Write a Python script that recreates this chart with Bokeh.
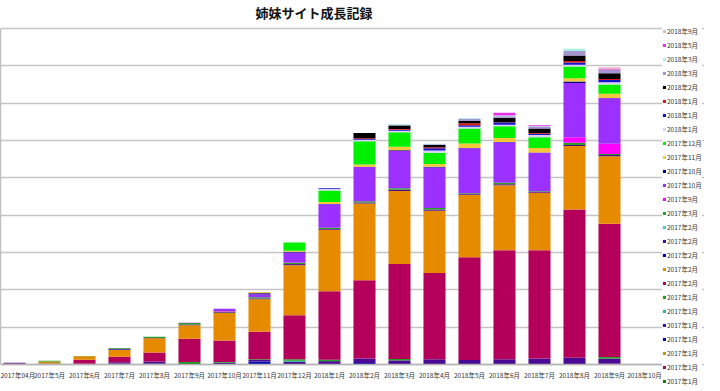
from bokeh.plotting import figure
from bokeh.models import ColumnDataSource, Range1d, FixedTicker, SingleIntervalTicker, Legend, LegendItem
from bokeh.core.properties import value
from bokeh.embed import file_html
from bokeh.resources import INLINE

title_text = "姉妹サイト成長記録"

months = ["2017年04月", "2017年5月", "2017年6月", "2017年7月", "2017年8月", "2017年9月",
          "2017年10月", "2017年11月", "2017年12月", "2018年1月", "2018年2月", "2018年3月",
          "2018年4月", "2018年5月", "2018年6月", "2018年7月", "2018年8月", "2018年9月", "2018年10月"]

# stacked series, bottom to top (one value per month)
s01 = [1, 0, 0, 2, 2, 4, 0, 0, 0, 0, 0, 0, 0, 0, 0, 0, 0, 0, 0]
s02 = [2, 2, 0, 0, 0, 0, 0, 0, 0, 0, 0, 0, 0, 0, 0, 0, 0, 2, 0]
s03 = [0, 6, 0, 0, 0, 0, 0, 0, 0, 0, 0, 0, 0, 0, 0, 0, 0, 0, 0]
s04 = [0, 0, 0, 0, 0, 0, 0, 8, 0, 0, 4, 0, 0, 0, 0, 0, 0, 0, 0]
s05 = [2, 0, 2, 4, 6, 0, 5, 4, 7, 9, 12, 11, 14, 12, 14, 16, 18, 14, 0]
s06 = [0, 0, 0, 0, 0, 0, 0, 0, 3, 0, 0, 0, 0, 0, 0, 0, 0, 0, 0]
s07 = [0, 2, 0, 0, 0, 3, 2, 2, 4, 4, 0, 4, 0, 0, 0, 0, 0, 4, 0]
s08 = [0, 0, 11, 15, 24, 62, 57, 74, 118, 183, 210, 254, 231, 275, 292, 290, 397, 357, 0]
s09 = [0, 0, 9, 18, 38, 36, 74, 87, 134, 165, 205, 196, 167, 168, 174, 154, 170, 181, 0]
s10 = [0, 0, 0, 1, 0, 0, 0, 0, 0, 0, 0, 0, 0, 0, 0, 0, 0, 0, 0]
s11 = [0, 0, 0, 2, 1, 2, 2, 2, 3, 2, 3, 3, 3, 2, 3, 2, 3, 3, 0]
s12 = [0, 0, 0, 0, 0, 0, 0, 0, 0, 0, 0, 0, 0, 0, 0, 0, 0, 0, 0]
s13 = [0, 0, 1, 2, 3, 4, 2, 3, 3, 3, 3, 4, 4, 2, 4, 2, 6, 3, 0]
s14 = [0, 0, 0, 0, 0, 1, 1, 0, 1, 0, 0, 0, 0, 0, 0, 0, 15, 27, 0]
s15 = [0, 0, 0, 0, 0, 0, 6, 8, 27, 63, 92, 100, 109, 120, 108, 103, 145, 122, 0]
s16 = [0, 0, 0, 0, 0, 0, 0, 3, 2, 1, 1, 2, 2, 1, 1, 1, 4, 1, 0]
s17 = [0, 0, 0, 0, 0, 0, 0, 3, 3, 5, 6, 9, 7, 12, 11, 12, 9, 11, 0]
s18 = [0, 0, 0, 0, 0, 0, 0, 0, 22, 31, 62, 39, 30, 40, 31, 29, 31, 25, 0]
s19 = [0, 0, 0, 0, 0, 0, 0, 0, 0, 4, 4, 4, 6, 5, 4, 6, 5, 6, 0]
s20 = [0, 0, 0, 0, 0, 0, 0, 0, 0, 2, 2, 3, 6, 4, 6, 3, 6, 6, 0]
s21 = [0, 0, 0, 0, 0, 0, 0, 0, 0, 0, 2, 2, 3, 5, 1, 2, 4, 3, 0]
s22 = [0, 0, 0, 0, 0, 0, 0, 0, 0, 0, 14, 9, 6, 6, 12, 12, 15, 15, 0]
s23 = [0, 0, 0, 0, 0, 0, 0, 0, 0, 0, 0, 2, 2, 6, 4, 4, 12, 9, 0]
s24 = [0, 0, 0, 0, 0, 0, 0, 0, 0, 0, 0, 2, 1, 2, 2, 2, 6, 0, 0]
s25 = [0, 0, 0, 0, 0, 0, 0, 0, 0, 0, 0, 0, 0, 0, 7, 3, 0, 2, 0]
s26 = [0, 0, 0, 0, 0, 0, 0, 0, 0, 0, 0, 0, 0, 0, 0, 0, 0, 5, 0]

series = [s01, s02, s03, s04, s05, s06, s07, s08, s09, s10, s11, s12, s13,
          s14, s15, s16, s17, s18, s19, s20, s21, s22, s23, s24, s25, s26]

series_labels = ["2017年1月"] * 7 + ["2017年2月"] * 5 + [
    "2017年3月", "2017年9月", "2017年10月", "2017年10月", "2017年11月", "2017年12月",
    "2018年1月", "2018年1月", "2018年1月", "2018年2月", "2018年3月", "2018年3月",
    "2018年5月", "2018年9月"]

colors = ["#1a7a1a", "#a0145a", "#c8901e", "#0a0ab4", "#4a0a96", "#2ab4a0", "#22a022",
          "#b4005a", "#e68a00", "#0000c8", "#500a8c", "#40d2c0", "#28a028",
          "#ff00ff", "#9b30ff", "#00008c", "#f5c83c", "#00f000", "#dcd0f8",
          "#1414c8", "#e01414", "#000000", "#a596d2", "#aaf0e0", "#e632e6", "#ebb4c8"]

FONT = "Noto Sans CJK JP"

xs = list(range(len(months)))
keys = ["s%02d" % (i + 1) for i in range(len(series))]
data = {"x": xs}
for k, s in zip(keys, series):
    data[k] = s
source = ColumnDataSource(data)

# layout geometry (pixels)
FRAME_W = 704          # frame spans the whole width; legend sits in its right part
PX_PER_CAT = 35
x0 = -0.4
Y_TOP = 900            # value at top gridline
GRID_PX = 336          # pixels from baseline to top gridline
ABOVE_PX = 7           # frame space above top gridline
BELOW_PX = 24          # frame space below baseline (axis labels live here)
units_per_px = Y_TOP / GRID_PX

p = figure(frame_width=FRAME_W, frame_height=GRID_PX + ABOVE_PX + BELOW_PX,
           x_range=Range1d(x0, x0 + FRAME_W / PX_PER_CAT),
           y_range=Range1d(-BELOW_PX * units_per_px, Y_TOP + ABOVE_PX * units_per_px),
           output_backend="svg", toolbar_location=None,
           min_border_left=0, min_border_right=0, min_border_top=0, min_border_bottom=0)
p.background_fill_color = "white"
p.border_fill_color = "white"
p.outline_line_color = None

renderers = p.vbar_stack(keys, x="x", width=0.63, fill_color=colors, line_color=None, source=source)

p.title.text = title_text
p.title.text_font = FONT
p.title.text_font_size = "13px"
p.title.text_font_style = "bold"
p.title.text_color = "#111111"
p.title.align = "left"
p.title.offset = 255
p.title.standoff = 0

p.xaxis.fixed_location = 0
p.xaxis.ticker = FixedTicker(ticks=xs)
p.xaxis.major_label_overrides = {i: m for i, m in enumerate(months)}
p.xaxis.bounds = (-0.5, len(months) - 0.5)
p.xaxis.axis_label = None
p.xaxis.axis_line_color = "#b4b4b4"
p.xaxis.axis_line_width = 1.5
p.xaxis.major_tick_line_color = None
p.xaxis.minor_tick_line_color = None
p.xaxis.major_tick_out = 0
p.xaxis.major_tick_in = 0
p.xaxis.minor_tick_out = 0
p.xaxis.minor_tick_in = 0
p.xaxis.major_label_text_font = FONT
p.xaxis.major_label_text_font_size = "6.5px"
p.xaxis.major_label_text_color = "#333333"
p.xaxis.major_label_standoff = 5

p.yaxis.ticker = FixedTicker(ticks=[])
p.yaxis.bounds = (0, Y_TOP)
p.yaxis.axis_label = None
p.yaxis.axis_line_color = "#c0c0c0"
p.yaxis.axis_line_width = 1.5
p.yaxis.major_tick_out = 0
p.yaxis.major_tick_in = 0
p.yaxis.minor_tick_out = 0
p.yaxis.minor_tick_in = 0
p.yaxis.major_label_standoff = 0

p.xgrid.visible = False
p.ygrid.ticker = SingleIntervalTicker(interval=100)
p.ygrid.grid_line_color = "#c4c4c4"
p.ygrid.grid_line_width = 1.5

items = [LegendItem(label=value(lab), renderers=[r]) for lab, r in zip(series_labels, renderers)][::-1]
legend = Legend(items=items, location=(662, 2))
legend.label_text_font = FONT
legend.label_text_font_size = "6.5px"
legend.label_text_color = "#333333"
legend.label_height = 10
legend.glyph_height = 4
legend.glyph_width = 4
legend.spacing = 4
legend.label_standoff = 1
legend.padding = 2
legend.margin = 0
legend.background_fill_color = "white"
legend.background_fill_alpha = 1.0
legend.border_line_color = None
p.add_layout(legend)

open("out.html", "w").write(file_html(p, INLINE))
